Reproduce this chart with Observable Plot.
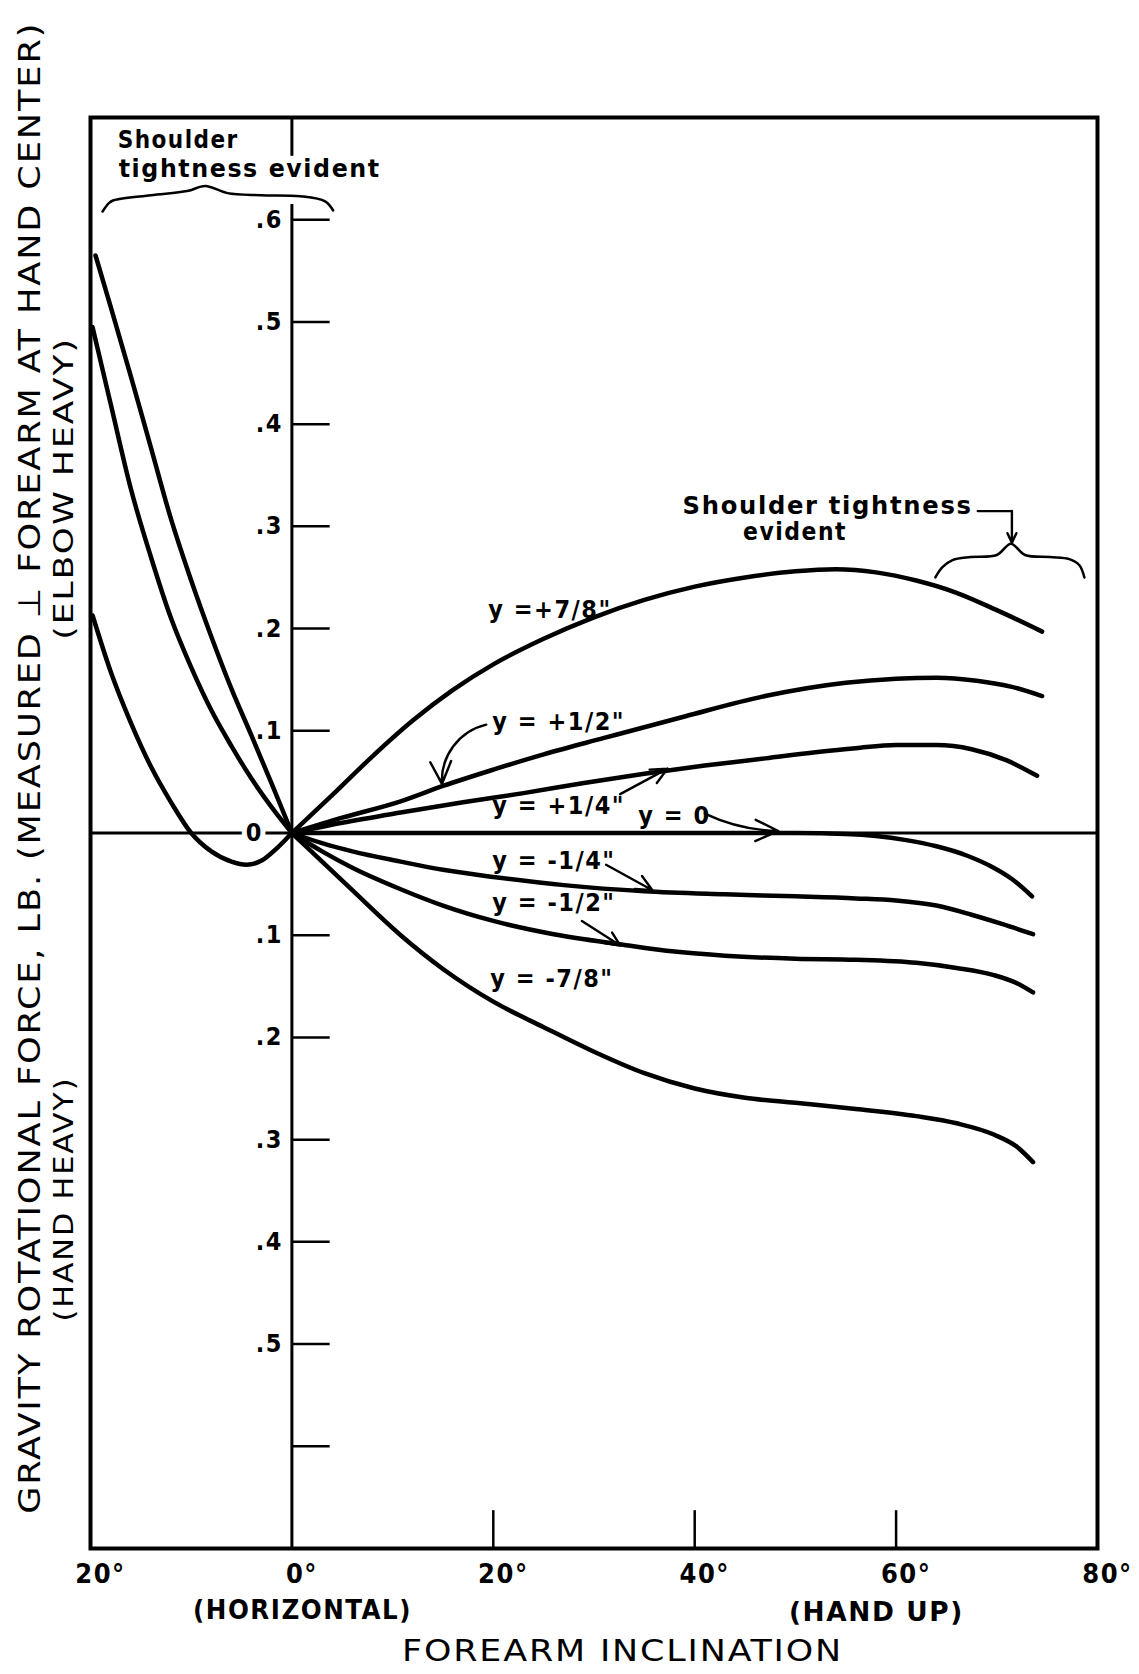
<!DOCTYPE html>
<html><head><meta charset="utf-8">
<script src="https://cdn.jsdelivr.net/npm/d3@7"></script>
<script src="https://cdn.jsdelivr.net/npm/@observablehq/plot@0.6"></script>
<style>
html,body{margin:0;padding:0;background:#fff;}
#chart svg{display:block;}
#chart text{letter-spacing:1.5px;}
</style></head><body><div id="chart"></div>
<script>
// ---- Data: forearm inclination (deg) vs gravity rotational force (lb) ----
const angP78 = [0,4,8,12,16,20,25,30,35,40,45,50,54,58,62,66,70,74.5];
const forceP78 = [0,0.037,0.075,0.11,0.14,0.165,0.19,0.211,0.228,0.241,0.25,0.256,0.258,0.255,0.247,0.235,0.218,0.197];
const angP12 = [0,5,10.8,15,20,25,31,39,47,55,60,64,68,71.5,74.5];
const forceP12 = [0,0.015,0.031,0.046,0.062,0.077,0.093,0.114,0.134,0.147,0.151,0.152,0.149,0.143,0.134];
const angP14 = [0,5,10.8,17,23,29,35,41,47,52,56,60,64,67.5,71,74];
const forceP14 = [0,0.01,0.02,0.03,0.039,0.049,0.058,0.066,0.073,0.079,0.083,0.086,0.086,0.082,0.071,0.056];
const angZ0 = [0,20,40,50,55,58,61,64,67,69.5,71.5,73.5];
const forceZ0 = [0,0,0,0,-0.001,-0.003,-0.007,-0.013,-0.022,-0.033,-0.045,-0.062];
const angM14 = [0,3,6,10.8,15,20,27,35,43,50,56,60,64,67.5,70.5,73.6];
const forceM14 = [0,-0.01,-0.018,-0.028,-0.036,-0.043,-0.051,-0.057,-0.06,-0.062,-0.064,-0.066,-0.071,-0.08,-0.089,-0.099];
const angM12 = [0,3,6,10.8,15,20,26,32.7,38,43,50,56,62,66,69.7,72,73.6];
const forceM12 = [0,-0.018,-0.034,-0.055,-0.071,-0.086,-0.099,-0.109,-0.116,-0.12,-0.123,-0.124,-0.127,-0.132,-0.139,-0.147,-0.156];
const angM78 = [0,3,6,10.8,15,20,25,30,35,40,45,50,56,62,66,69.7,72,73.6];
const forceM78 = [0,-0.028,-0.056,-0.1,-0.133,-0.165,-0.19,-0.214,-0.235,-0.25,-0.259,-0.264,-0.27,-0.277,-0.284,-0.295,-0.307,-0.322];
// hand-down side (forearm below horizontal)
const angLeftA = [-19.5,-18,-16,-14,-12,-10,-8,-6,-4,-2,0];
const forceLeftA = [0.565,0.515,0.447,0.377,0.307,0.247,0.192,0.141,0.095,0.048,0];
const angLeftB = [-19.8,-18,-16,-14,-12,-10,-8,-6,-4,-2,0];
const forceLeftB = [0.495,0.42,0.337,0.27,0.21,0.162,0.12,0.085,0.053,0.025,0];
const angLeftC = [-19.8,-18,-16,-14,-12,-10,-8,-6,-4.5,-3,-1.5,0];
const forceLeftC = [0.213,0.158,0.108,0.065,0.03,0,-0.018,-0.028,-0.031,-0.027,-0.015,0];

// ---- Axis ticks ----
const yTickValues = [0.6,0.5,0.4,0.3,0.2,0.1,-0.1,-0.2,-0.3,-0.4,-0.5,-0.6];
const yTickLabels = [".6",".5",".4",".3",".2",".1",".1",".2",".3",".4",".5",""];
const xTickValues = [-20,0,20,40,60,80];
const xTickLabels = ["20°","0°","20°","40°","60°","80°"];
const xInnerTicks = [20,40,60];

// ---- Curve labels & arrows ----
const curveLabelText = ["y =+7/8\"","y = +1/2\"","y = +1/4\"","y = 0","y = -1/4\"","y = -1/2\"","y = -7/8\""];
const curveLabelX = [19.5,19.9,19.9,34.4,19.9,19.9,19.7];
const curveLabelY = [0.218,0.109,0.026,0.017,-0.027,-0.068,-0.143];
const arrowX1 = [19.3,32.6,41.0,31.2,28.8];
const arrowY1 = [0.106,0.038,0.019,-0.031,-0.086];
const arrowX2 = [14.9,37.3,48.3,35.8,32.6];
const arrowY2 = [0.048,0.063,0.002,-0.056,-0.110];
const arrowBend = [-40,0,-12,0,0];

// ---- Annotation braces ----
const braceLeftX = [-18.8,-18.2,-17.7,-14.0,-10.4,-8.6,-6.4,-3.1,0.85,3.3,4.1];
const braceLeftY = [0.608,0.616,0.619,0.624,0.628,0.633,0.626,0.624,0.623,0.618,0.609];
const braceRightX = [63.9,64.6,65.6,67.4,70.0,71.4,72.8,75.3,77.2,78.2,78.7];
const braceRightY = [0.25,0.26,0.267,0.27,0.272,0.283,0.272,0.27,0.268,0.262,0.25];

const seriesDefs = [
  ["+7/8", angP78, forceP78], ["+1/2", angP12, forceP12], ["+1/4", angP14, forceP14],
  ["0", angZ0, forceZ0], ["-1/4", angM14, forceM14], ["-1/2", angM12, forceM12],
  ["-7/8", angM78, forceM78], ["leftA", angLeftA, forceLeftA], ["leftB", angLeftB, forceLeftB],
  ["leftC", angLeftC, forceLeftC]
];
const rows = [];
for (const [name, xs, ys] of seriesDefs) xs.forEach((x, i) => rows.push({series: name, angle: x, force: ys[i]}));
const curveLabels = curveLabelText.map((t, i) => ({t, x: curveLabelX[i], y: curveLabelY[i]}));
const arrows = arrowX1.map((x, i) => ({x1: x, y1: arrowY1[i], x2: arrowX2[i], y2: arrowY2[i], bend: arrowBend[i]}));
const braceL = braceLeftX.map((x, i) => ({x, y: braceLeftY[i]}));
const braceR = braceRightX.map((x, i) => ({x, y: braceRightY[i]}));
const axisSegments = [{y1: -0.7, y2: 0.615}, {y1: 0.662, y2: 0.7}];

const bold = "bold";
const arrowMarks = arrows.map(a => Plot.arrow([a], {x1: "x1", y1: "y1", x2: "x2", y2: "y2", bend: a.bend, strokeWidth: 2.4, headLength: 16, headAngle: 50}));

const plot = Plot.plot({
  width: 1139, height: 1674,
  marginLeft: 90, marginRight: 42, marginTop: 117, marginBottom: 126,
  x: {domain: [-20, 80], axis: null},
  y: {domain: [-0.7, 0.7], axis: null},
  style: {fontFamily: "'DejaVu Sans Condensed', 'DejaVu Sans', sans-serif", background: "white", color: "black", overflow: "visible"},
  marks: [
    Plot.ruleY([0], {strokeWidth: 3}),
    Plot.ruleX(axisSegments, {x: 0, y1: "y1", y2: "y2", strokeWidth: 3}),
    Plot.ruleY(yTickValues, {x1: 0, x2: 3.8, strokeWidth: 2.5}),
    Plot.ruleX(xInnerTicks, {y1: -0.7, y2: -0.663, strokeWidth: 2.5}),
    Plot.line(rows, {x: "angle", y: "force", z: "series", curve: "monotone-x", stroke: "black", strokeWidth: 4.5, strokeLinecap: "round", strokeLinejoin: "round"}),
    Plot.frame({strokeWidth: 4}),
    Plot.text(yTickValues, {x: 0, y: d => d, text: (d, i) => yTickLabels[i], textAnchor: "end", dx: -9, fontSize: 25, fontWeight: bold}),
    Plot.text([0], {x: 0, y: 0, text: () => "0", textAnchor: "end", dx: -29, fontSize: 25, fontWeight: bold, stroke: "white", strokeWidth: 10, fill: "black"}),
    Plot.text(xTickValues, {x: d => d, y: -0.7, text: (d, i) => xTickLabels[i], dy: 26, dx: 10, fontSize: 27, fontWeight: bold}),
    Plot.text(curveLabels, {x: "x", y: "y", text: "t", textAnchor: "start", fontSize: 25, fontWeight: bold}),
    ...arrowMarks,
    Plot.line(braceL, {x: "x", y: "y", curve: "catmull-rom", strokeWidth: 2.5}),
    Plot.line(braceR, {x: "x", y: "y", curve: "catmull-rom", strokeWidth: 2.5}),
    Plot.text(["Shoulder"], {x: -17.3, y: 0.678, textAnchor: "start", fontSize: 25, fontWeight: bold}),
    Plot.text(["tightness evident"], {x: -17.2, y: 0.650, textAnchor: "start", fontSize: 25, fontWeight: bold}),
    Plot.text(["Shoulder tightness"], {x: 38.8, y: 0.320, textAnchor: "start", fontSize: 24, fontWeight: bold}),
    Plot.text(["evident"], {x: 44.8, y: 0.294, textAnchor: "start", fontSize: 24, fontWeight: bold}),
    Plot.line([{x: 68.1, y: 0.315}, {x: 71.5, y: 0.315}], {x: "x", y: "y", strokeWidth: 2.2}),
    Plot.arrow([{x1: 71.5, y1: 0.315, x2: 71.5, y2: 0.284}], {x1: "x1", y1: "y1", x2: "x2", y2: "y2", strokeWidth: 2.4, headLength: 14, headAngle: 50}),
    Plot.text(["GRAVITY ROTATIONAL FORCE, LB. (MEASURED ⊥ FOREARM AT HAND CENTER)"], {frameAnchor: "left", y: -0.666, dx: -60, rotate: -90, textAnchor: "start", fontSize: 31}),
    Plot.text(["(ELBOW HEAVY)"], {frameAnchor: "left", y: 0.189, dx: -26, rotate: -90, textAnchor: "start", fontSize: 26}),
    Plot.text(["(HAND HEAVY)"], {frameAnchor: "left", y: -0.478, dx: -26, rotate: -90, textAnchor: "start", fontSize: 26}),
    Plot.text(["(HORIZONTAL)"], {x: -9.82, y: -0.7, dy: 62, textAnchor: "start", fontSize: 27, fontWeight: bold}),
    Plot.text(["(HAND UP)"], {x: 49.36, y: -0.7, dy: 64, textAnchor: "start", fontSize: 27, fontWeight: bold}),
    Plot.text(["FOREARM INCLINATION"], {x: 10.93, y: -0.7, dy: 103, textAnchor: "start", fontSize: 31})
  ]
});

const textLengths = {
  "GRAVITY ROTATIONAL FORCE, LB. (MEASURED ⊥ FOREARM AT HAND CENTER)": 1492,
  "(ELBOW HEAVY)": 303, "(HAND HEAVY)": 245, "FOREARM INCLINATION": 441,
  "(HORIZONTAL)": 219, "(HAND UP)": 175, "Shoulder tightness": 290,
  "tightness evident": 262, "Shoulder": 121, "evident": 104
};
d3.select(plot).selectAll("text").each(function () {
  const L = textLengths[this.textContent];
  if (L) { this.setAttribute("textLength", L); this.setAttribute("lengthAdjust", "spacingAndGlyphs"); }
});
document.getElementById("chart").appendChild(plot);
</script></body></html>
